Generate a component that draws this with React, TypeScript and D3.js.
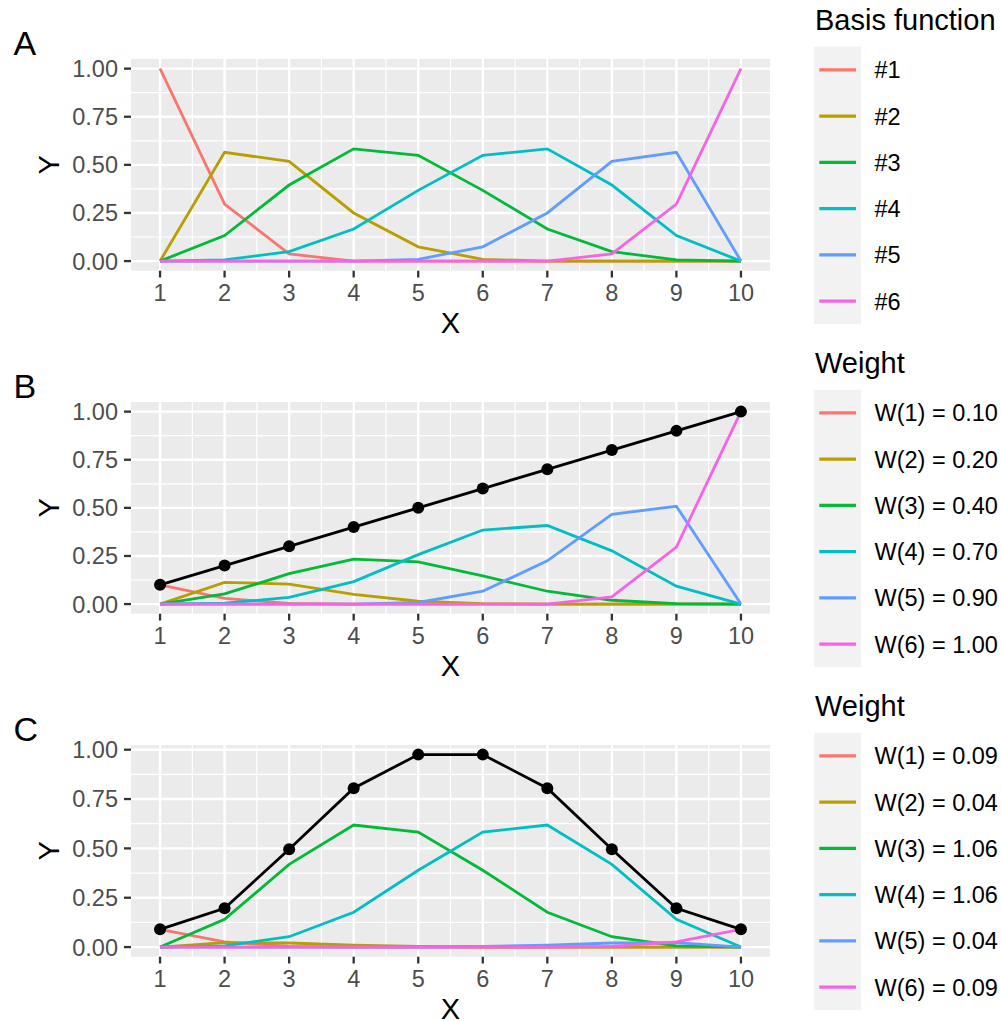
import React from "react";
import * as d3 from "d3";

const xValues = [1, 2, 3, 4, 5, 6, 7, 8, 9, 10];
const xTicks = [1, 2, 3, 4, 5, 6, 7, 8, 9, 10];
const yTicks = [0, 0.25, 0.5, 0.75, 1.0];

const seriesColors = ["#F8766D", "#B79F00", "#00BA38", "#00BFC4", "#619CFF", "#F564E3"];

// Panel A: basis functions
const basis1 = [1, 0.2963, 0.037, 0, 0, 0, 0, 0, 0, 0];
const basis2 = [0, 0.5648, 0.5185, 0.25, 0.0741, 0.0093, 0, 0, 0, 0];
const basis3 = [0, 0.1327, 0.3951, 0.5833, 0.5494, 0.3673, 0.1667, 0.0494, 0.0062, 0];
const basis4 = [0, 0.0062, 0.0494, 0.1667, 0.3673, 0.5494, 0.5833, 0.3951, 0.1327, 0];
const basis5 = [0, 0, 0, 0, 0.0093, 0.0741, 0.25, 0.5185, 0.5648, 0];
const basis6 = [0, 0, 0, 0, 0, 0, 0, 0.037, 0.2963, 1];
const labelsA = ["#1", "#2", "#3", "#4", "#5", "#6"];

// Panel B: weighted basis functions
const weightedB1 = [0.1, 0.0296, 0.0037, 0, 0, 0, 0, 0, 0, 0];
const weightedB2 = [0, 0.113, 0.1037, 0.05, 0.0148, 0.0019, 0, 0, 0, 0];
const weightedB3 = [0, 0.0531, 0.158, 0.2333, 0.2198, 0.1469, 0.0667, 0.0198, 0.0025, 0];
const weightedB4 = [0, 0.0043, 0.0346, 0.1167, 0.2571, 0.3846, 0.4083, 0.2765, 0.0929, 0];
const weightedB5 = [0, 0, 0, 0, 0.0083, 0.0667, 0.225, 0.4667, 0.5083, 0];
const weightedB6 = [0, 0, 0, 0, 0, 0, 0, 0.037, 0.2963, 1];
const sumB = [0.1, 0.2, 0.3, 0.4, 0.5, 0.6, 0.7, 0.8, 0.9, 1.0];
const labelsB = ["W(1) = 0.10", "W(2) = 0.20", "W(3) = 0.40", "W(4) = 0.70", "W(5) = 0.90", "W(6) = 1.00"];

// Panel C: weighted basis functions
const weightedC1 = [0.09, 0.0267, 0.0033, 0, 0, 0, 0, 0, 0, 0];
const weightedC2 = [0, 0.0226, 0.0207, 0.01, 0.003, 0.0004, 0, 0, 0, 0];
const weightedC3 = [0, 0.1407, 0.4188, 0.6183, 0.5823, 0.3893, 0.1767, 0.0523, 0.0065, 0];
const weightedC4 = [0, 0.0065, 0.0523, 0.1767, 0.3893, 0.5823, 0.6183, 0.4188, 0.1407, 0];
const weightedC5 = [0, 0, 0, 0, 0.0004, 0.003, 0.01, 0.0207, 0.0226, 0];
const weightedC6 = [0, 0, 0, 0, 0, 0, 0, 0.0033, 0.0267, 0.09];
const sumC = [0.09, 0.1965, 0.4952, 0.805, 0.975, 0.975, 0.805, 0.4952, 0.1965, 0.09];
const labelsC = ["W(1) = 0.09", "W(2) = 0.04", "W(3) = 1.06", "W(4) = 1.06", "W(5) = 0.04", "W(6) = 0.09"];

const FONT = "'Liberation Sans', Arial, Helvetica, sans-serif";

type PanelProps = {
  top: number;
  tag: string;
  series: number[][];
  sum?: number[];
  legendTitle: string;
  labels: string[];
};

const PANEL_LEFT = 131;
const PANEL_RIGHT = 770;
const PANEL_H = 211.7;

function Panel({ top, tag, series, sum, legendTitle, labels }: PanelProps) {
  const bottom = top + PANEL_H;
  const xExt = d3.extent(xValues) as [number, number];
  const xPad = (xExt[1] - xExt[0]) * 0.05;
  const x = d3.scaleLinear().domain([xExt[0] - xPad, xExt[1] + xPad]).range([PANEL_LEFT, PANEL_RIGHT]);
  const allY = series.flat().concat(sum ?? []);
  const yMin = d3.min(allY) as number;
  const yMax = d3.max(allY) as number;
  const yPad = (yMax - yMin) * 0.05;
  const y = d3.scaleLinear().domain([yMin - yPad, yMax + yPad]).range([bottom, top]);

  const line = d3
    .line<number>()
    .x((_, i) => x(xValues[i]))
    .y((d) => y(d));

  const xMinor = xTicks.slice(0, -1).map((t, i) => (t + xTicks[i + 1]) / 2);
  const yMinor = yTicks.slice(0, -1).map((t, i) => (t + yTicks[i + 1]) / 2);
  const [d0, d1] = x.domain();
  const [e0, e1] = y.domain();

  const keyTop = top - 12.3;
  const keyH = 46.25;
  const keyLeft = 814;
  const keyW = 47;

  return (
    <g>
      <text x={13.5} y={top - 4} fontFamily={FONT} fontSize={34} fill="#000">
        {tag}
      </text>
      <rect x={PANEL_LEFT} y={top} width={PANEL_RIGHT - PANEL_LEFT} height={PANEL_H} fill="#EBEBEB" />
      {xMinor.filter((v) => v > d0 && v < d1).map((v) => (
        <line key={"xm" + v} x1={x(v)} x2={x(v)} y1={top} y2={bottom} stroke="#fff" strokeWidth={1.2} />
      ))}
      {yMinor.filter((v) => v > e0 && v < e1).map((v) => (
        <line key={"ym" + v} x1={PANEL_LEFT} x2={PANEL_RIGHT} y1={y(v)} y2={y(v)} stroke="#fff" strokeWidth={1.2} />
      ))}
      {xTicks.map((v) => (
        <line key={"xM" + v} x1={x(v)} x2={x(v)} y1={top} y2={bottom} stroke="#fff" strokeWidth={2.4} />
      ))}
      {yTicks.map((v) => (
        <line key={"yM" + v} x1={PANEL_LEFT} x2={PANEL_RIGHT} y1={y(v)} y2={y(v)} stroke="#fff" strokeWidth={2.4} />
      ))}
      {series.map((s, i) => (
        <path key={"s" + i} d={line(s) ?? ""} fill="none" stroke={seriesColors[i]} strokeWidth={2.8} />
      ))}
      {sum && (
        <g>
          <path d={line(sum) ?? ""} fill="none" stroke="#000" strokeWidth={2.8} />
          {sum.map((v, i) => (
            <circle key={"p" + i} cx={x(xValues[i])} cy={y(v)} r={6} fill="#000" />
          ))}
        </g>
      )}
      {/* y axis */}
      {yTicks.map((v) => (
        <g key={"yt" + v}>
          <line x1={124} x2={PANEL_LEFT} y1={y(v)} y2={y(v)} stroke="#333333" strokeWidth={2.3} />
          <text x={118} y={y(v)} dy="0.36em" textAnchor="end" fontFamily={FONT} fontSize={23.5} fill="#4D4D4D">
            {d3.format(".2f")(v)}
          </text>
        </g>
      ))}
      {/* x axis */}
      {xTicks.map((v) => (
        <g key={"xt" + v}>
          <line x1={x(v)} x2={x(v)} y1={bottom} y2={bottom + 6.8} stroke="#333333" strokeWidth={2.3} />
          <text x={x(v)} y={bottom + 30} textAnchor="middle" fontFamily={FONT} fontSize={23.5} fill="#4D4D4D">
            {v}
          </text>
        </g>
      ))}
      <text x={(PANEL_LEFT + PANEL_RIGHT) / 2} y={bottom + 61.8} textAnchor="middle" fontFamily={FONT} fontSize={29} fill="#000">
        X
      </text>
      <text
        transform={`translate(59,${(top + bottom) / 2}) rotate(-90)`}
        textAnchor="middle"
        fontFamily={FONT}
        fontSize={29}
        fill="#000"
      >
        Y
      </text>
      {/* legend */}
      <text x={815} y={top - 28.7} fontFamily={FONT} fontSize={29} fill="#000">
        {legendTitle}
      </text>
      <rect x={keyLeft} y={keyTop} width={keyW} height={keyH * labels.length} fill="#F2F2F2" />
      {labels.map((lab, i) => {
        const cy = keyTop + keyH * (i + 0.5);
        return (
          <g key={"lg" + i}>
            <line x1={819.3} x2={856} y1={cy} y2={cy} stroke={seriesColors[i]} strokeWidth={3.4} />
            <text x={874.5} y={cy} dy="0.36em" fontFamily={FONT} fontSize={23.5} fill="#000">
              {lab}
            </text>
          </g>
        );
      })}
    </g>
  );
}

export default function App() {
  return (
    <div style={{ position: "absolute", left: 0, top: 0 }}>
      <svg width={1001} height={1021} viewBox="0 0 1001 1021" style={{ display: "block", background: "#fff" }}>
        <rect x={0} y={0} width={1001} height={1021} fill="#fff" />
        <Panel
          top={59}
          tag="A"
          series={[basis1, basis2, basis3, basis4, basis5, basis6]}
          legendTitle="Basis function"
          labels={labelsA}
        />
        <Panel
          top={402}
          tag="B"
          series={[weightedB1, weightedB2, weightedB3, weightedB4, weightedB5, weightedB6]}
          sum={sumB}
          legendTitle="Weight"
          labels={labelsB}
        />
        <Panel
          top={745}
          tag="C"
          series={[weightedC1, weightedC2, weightedC3, weightedC4, weightedC5, weightedC6]}
          sum={sumC}
          legendTitle="Weight"
          labels={labelsC}
        />
      </svg>
    </div>
  );
}
